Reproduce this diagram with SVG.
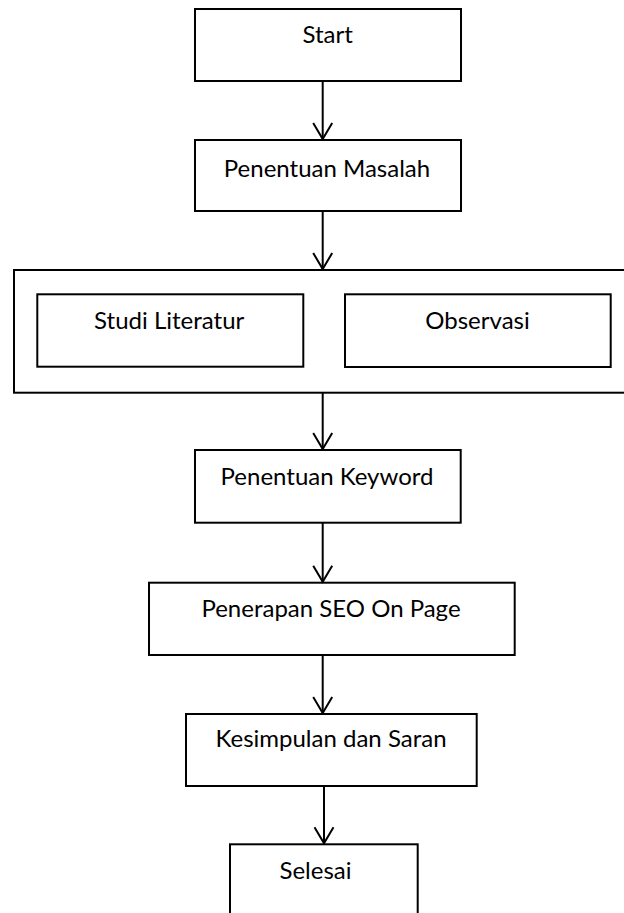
<svg xmlns="http://www.w3.org/2000/svg" width="624" height="913" viewBox="0 0 624 913">
<style>
.box{fill:#fff;stroke:#000;stroke-width:2}
.lbl{font-family:Lato,"Open Sans","Noto Sans",sans-serif;font-size:24px;fill:#000;text-anchor:middle}
.conn{stroke:#000;stroke-width:2;fill:none;marker-end:url(#arr)}
</style>
<defs>
<marker id="arr" markerUnits="userSpaceOnUse" viewBox="-18 -11 20 22" markerWidth="20" markerHeight="22" refX="0" refY="0" orient="auto">
<path d="M-16,-9.5 L0,0 L-16,9.5" fill="none" stroke="#000" stroke-width="2"/>
</marker>
</defs>
<rect width="624" height="913" fill="#fff"/>
<g id="start"><rect class="box" x="195" y="9" width="266" height="72"/><text class="lbl" x="327.7" y="43.3">Start</text></g>
<g id="masalah"><rect class="box" x="195" y="140" width="266" height="71"/><text class="lbl" x="327" y="176.7">Penentuan Masalah</text></g>
<g id="group"><rect class="box" x="14" y="270" width="620" height="122.7"/></g>
<g id="studi"><rect class="box" x="37.3" y="294.3" width="266" height="72.4"/><text class="lbl" x="169.2" y="329">Studi Literatur</text></g>
<g id="observasi"><rect class="box" x="345" y="294.3" width="265.7" height="72.7"/><text class="lbl" x="477.5" y="329">Observasi</text></g>
<g id="keyword"><rect class="box" x="195" y="450" width="265.7" height="72.7"/><text class="lbl" x="327" y="485">Penentuan Keyword</text></g>
<g id="seo"><rect class="box" x="149" y="582.7" width="365.7" height="72.3"/><text class="lbl" x="331" y="616.7">Penerapan SEO On Page</text></g>
<g id="kesimpulan"><rect class="box" x="186" y="714" width="290.7" height="72"/><text class="lbl" x="331" y="747.3">Kesimpulan dan Saran</text></g>
<g id="selesai"><rect class="box" x="230" y="844.3" width="187.7" height="80"/><text class="lbl" x="315.5" y="879.3">Selesai</text></g>
<g id="connectors">
<line class="conn" x1="322.7" y1="81" x2="322.7" y2="139"/>
<line class="conn" x1="322.7" y1="211" x2="322.7" y2="269"/>
<line class="conn" x1="322.7" y1="393" x2="322.7" y2="449"/>
<line class="conn" x1="322.7" y1="523" x2="322.7" y2="581.7"/>
<line class="conn" x1="322.7" y1="655" x2="322.7" y2="713"/>
<line class="conn" x1="324" y1="786" x2="324" y2="843.3"/>
</g>
</svg>
